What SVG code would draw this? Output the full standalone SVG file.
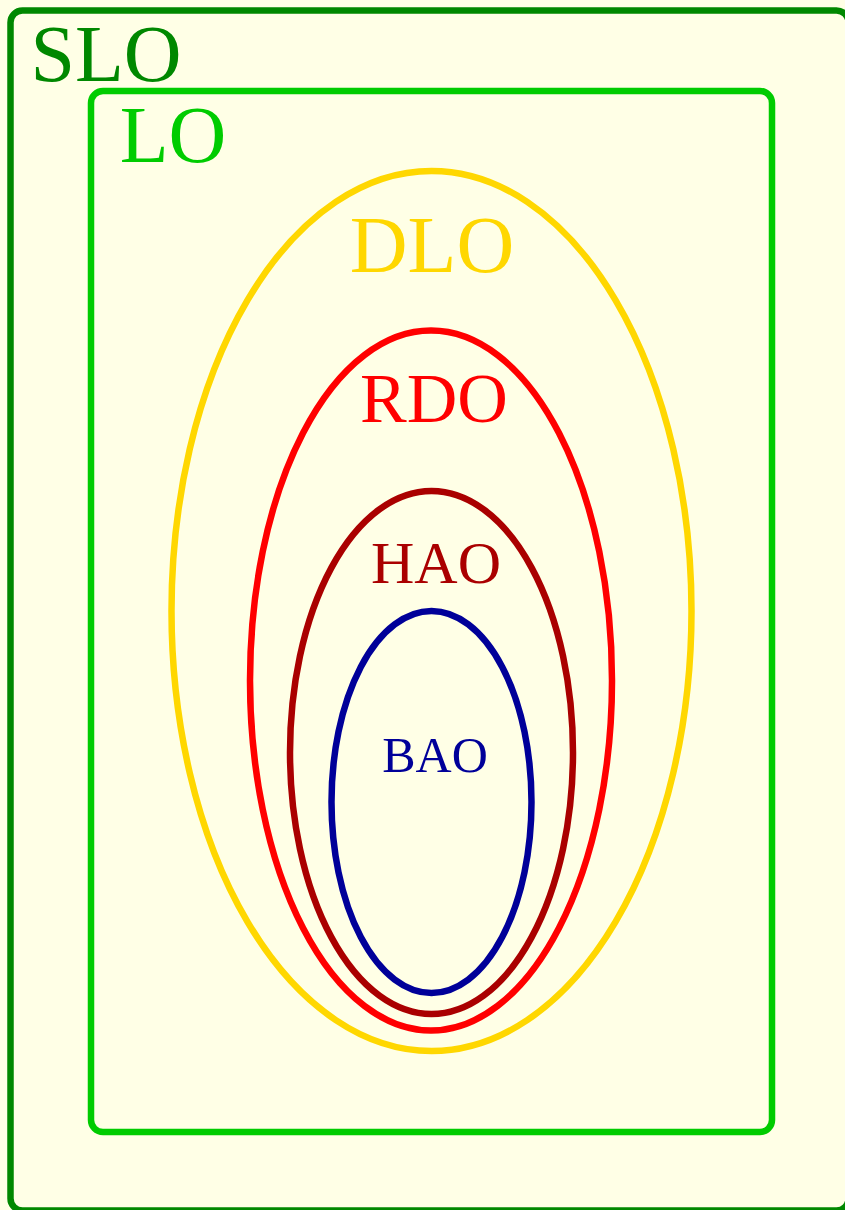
<svg xmlns="http://www.w3.org/2000/svg" width="845" height="1210" viewBox="0 0 845 1210">
<style>
.t{font-family:"Liberation Serif","Times New Roman",serif;text-anchor:middle}
.s{fill:none;stroke-width:6.5}
</style>
<rect x="0" y="0" width="845" height="1210" fill="#ffffe6"/>
<g id="SLO">
<rect class="s" x="10.5" y="10.5" width="838" height="1200" rx="12" stroke="#008800"/>
<text class="t" x="106" y="81" font-size="80" fill="#008800">SLO</text>
</g>
<g id="LO">
<rect class="s" x="91" y="91" width="681" height="1041" rx="12" stroke="#00cc00" stroke-width="7"/>
<text class="t" x="173" y="162" font-size="80" fill="#00cc00">LO</text>
</g>
<g id="DLO">
<ellipse class="s" cx="431.5" cy="611" rx="260" ry="440" stroke="#ffd700"/>
<text class="t" x="432" y="272" font-size="80" fill="#ffd700">DLO</text>
</g>
<g id="RDO">
<ellipse class="s" cx="431" cy="680.5" rx="181" ry="350" stroke="#ff0000"/>
<text class="t" x="434" y="422" font-size="70" fill="#ff0000">RDO</text>
</g>
<g id="HAO">
<ellipse class="s" cx="431.5" cy="752.5" rx="141.5" ry="261.5" stroke="#aa0000"/>
<text class="t" x="436" y="583" font-size="60" fill="#aa0000">HAO</text>
</g>
<g id="BAO">
<ellipse class="s" cx="431.5" cy="802" rx="100" ry="191" stroke="#000099"/>
<text class="t" x="435" y="772" font-size="50" fill="#000099">BAO</text>
</g>
<g id="connectors"/>
</svg>
